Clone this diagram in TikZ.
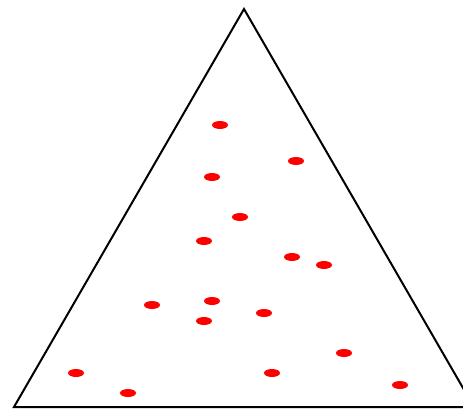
\documentclass[tikz,border=0pt]{standalone}
\begin{document}
\begin{tikzpicture}[x=1pt,y=-1pt,
  dot/.style={fill=red},
  edge/.style={draw=black,line width=2pt,line join=miter}]
\useasboundingbox (0,0) rectangle (463,409);
\fill[white] (0,0) rectangle (463,409);
\clip (0,0) rectangle (463,409);
\coordinate (A) at (244,9);
\coordinate (L) at (14,407);
\coordinate (R) at (474,407);
\draw[edge] (A) -- (L) -- (R) -- cycle;
\foreach \x/\y in {220/125,296/161,212/177,240/217,204/241,292/257,324/265,
  152/305,212/301,204/321,264/313,344/353,76/373,272/373,128/393,400/385}
  \fill[dot] (\x,\y) ellipse (8 and 4);
\end{tikzpicture}
\end{document}
